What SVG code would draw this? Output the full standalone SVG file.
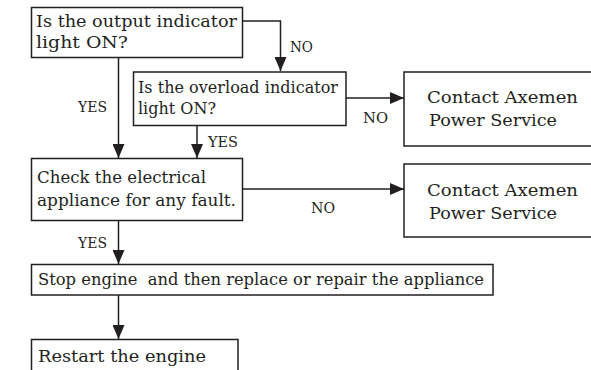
<svg xmlns="http://www.w3.org/2000/svg" width="591" height="370" viewBox="0 0 591 370">
<style>
.box{fill:#fff;stroke:#231f20;stroke-width:1.5}
.t{font-family:"DejaVu Serif","Liberation Serif",serif;font-size:17.5px;fill:#231f20}
.l{font-family:"DejaVu Serif","Liberation Serif",serif;font-size:14px;fill:#231f20}
.c{fill:none;stroke:#231f20;stroke-width:1.5}
</style>
<defs>
<marker id="ah" markerWidth="14" markerHeight="12" refX="14" refY="6" orient="auto" markerUnits="userSpaceOnUse">
<path d="M0,0 L14,6 L0,12 Z" fill="#231f20"/>
</marker>
</defs>
<g id="connectors">
<path class="c" d="M242,21 H280.5 V71" marker-end="url(#ah)"/>
<path class="c" d="M118.5,57 V158" marker-end="url(#ah)"/>
<path class="c" d="M197,125 V158" marker-end="url(#ah)"/>
<path class="c" d="M346,98 H404" marker-end="url(#ah)"/>
<path class="c" d="M242,189 H404" marker-end="url(#ah)"/>
<path class="c" d="M118.5,220 V264" marker-end="url(#ah)"/>
<path class="c" d="M118.5,295 V339" marker-end="url(#ah)"/>
<text class="l" x="290" y="52" textLength="23" lengthAdjust="spacingAndGlyphs">NO</text>
<text class="l" x="78" y="112" textLength="29" lengthAdjust="spacingAndGlyphs">YES</text>
<text class="l" x="208" y="147" textLength="30" lengthAdjust="spacingAndGlyphs">YES</text>
<text class="l" x="363" y="123" textLength="25" lengthAdjust="spacingAndGlyphs">NO</text>
<text class="l" x="311" y="213" textLength="24" lengthAdjust="spacingAndGlyphs">NO</text>
<text class="l" x="78" y="248" textLength="29" lengthAdjust="spacingAndGlyphs">YES</text>
</g>
<g id="q1">
<rect class="box" x="31.5" y="7.5" width="211" height="50"/>
<text class="t" x="36" y="27" textLength="201" lengthAdjust="spacingAndGlyphs">Is the output indicator</text>
<text class="t" x="36" y="48" textLength="92" lengthAdjust="spacingAndGlyphs">light ON?</text>
</g>
<g id="q2">
<rect class="box" x="133.5" y="72" width="212.5" height="53.5"/>
<text class="t" x="138" y="93" textLength="200" lengthAdjust="spacingAndGlyphs">Is the overload indicator</text>
<text class="t" x="138" y="114" textLength="78" lengthAdjust="spacingAndGlyphs">light ON?</text>
</g>
<g id="s1">
<rect class="box" x="404" y="72" width="200" height="74"/>
<text class="t" x="427" y="103" textLength="151" lengthAdjust="spacingAndGlyphs">Contact Axemen</text>
<text class="t" x="429" y="126" textLength="128" lengthAdjust="spacingAndGlyphs">Power Service</text>
</g>
<g id="q3">
<rect class="box" x="31.5" y="158.5" width="211" height="62"/>
<text class="t" x="37" y="183" textLength="169" lengthAdjust="spacingAndGlyphs">Check the electrical</text>
<text class="t" x="37" y="206" textLength="199" lengthAdjust="spacingAndGlyphs">appliance for any fault.</text>
</g>
<g id="s2">
<rect class="box" x="404" y="164" width="200" height="73"/>
<text class="t" x="427" y="196" textLength="151" lengthAdjust="spacingAndGlyphs">Contact Axemen</text>
<text class="t" x="429" y="219" textLength="128" lengthAdjust="spacingAndGlyphs">Power Service</text>
</g>
<g id="a1">
<rect class="box" x="31.5" y="264.5" width="461.5" height="30.5"/>
<text class="t" x="38" y="285" textLength="446" lengthAdjust="spacingAndGlyphs" xml:space="preserve">Stop engine  and then replace or repair the appliance</text>
</g>
<g id="a2">
<rect class="box" x="31.5" y="339.5" width="206.5" height="40"/>
<text class="t" x="38" y="362" textLength="168" lengthAdjust="spacingAndGlyphs">Restart the engine</text>
</g>
</svg>
